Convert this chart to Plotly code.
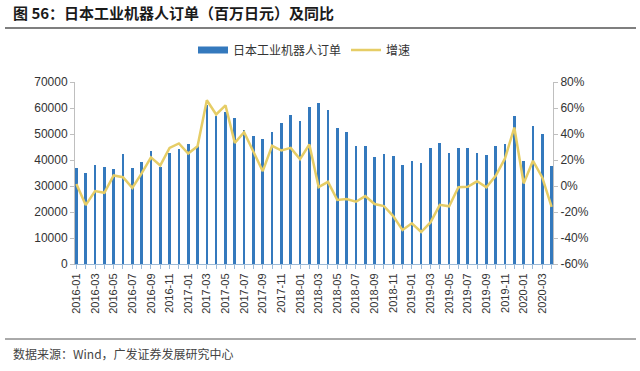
import plotly.graph_objects as go

months = [f"{y}-{m:02d}" for y in range(2016, 2021) for m in range(1, 13)][:52]

orders = [37.0, 35.1, 38.0, 37.4, 36.5, 42.5, 37.0, 39.2, 43.4, 37.4,
          42.7, 44.3, 46.1, 45.2, 61.1, 57.0, 58.5, 56.3, 51.7, 49.2,
          47.9, 50.6, 54.4, 57.5, 54.9, 60.3, 62.1, 59.3, 52.2, 50.7,
          45.2, 45.4, 41.0, 42.5, 41.7, 37.9, 39.6, 38.7, 44.5, 46.7,
          42.7, 44.8, 44.8, 42.7, 41.9, 45.2, 46.3, 57.0, 39.6, 53.0,
          49.9, 37.6]
orders = [v * 1000 for v in orders]

growth = [1.5, -14.7, -3.9, -5.2, 8.1, 6.8, -1.4, 9.7, 22.0, 15.8,
          29.3, 32.7, 25.0, 30.6, 66.0, 55.0, 62.0, 33.2, 41.4, 26.0,
          11.4, 30.9, 27.3, 29.3, 20.7, 31.9, -0.8, 3.2, -10.8, -10.1,
          -12.1, -7.8, -13.9, -15.4, -23.1, -33.9, -28.7, -35.4, -28.0, -14.5,
          -15.6, -1.0, -0.6, 3.6, -1.0, 7.9, 21.2, 45.0, 2.0, 19.4,
          6.6, -16.0]
growth = [v / 100 for v in growth]

left_ticks = [0, 10000, 20000, 30000, 40000, 50000, 60000, 70000]
right_ticks = [-0.6, -0.4, -0.2, 0, 0.2, 0.4, 0.6, 0.8]

title_text = "图 56：日本工业机器人订单（百万日元）及同比"
source_text = "数据来源：Wind，广发证券发展研究中心"
bar_name = "日本工业机器人订单"
line_name = "增速"

BAR_COLOR = "#3479bd"
LINE_COLOR = "#e6cd66"
FONT = "Liberation Sans, Arial, sans-serif"
CJK = "Noto Sans CJK SC"

x = list(range(len(months)))

fig = go.Figure()
fig.add_trace(go.Bar(x=x, y=orders, name=bar_name, marker_color=BAR_COLOR,
                     marker_line_width=0, width=0.28, showlegend=False))
fig.add_trace(go.Scatter(x=[None], y=[None], mode="lines", name=bar_name,
                         line=dict(color=BAR_COLOR, width=7)))
fig.add_trace(go.Scatter(x=x, y=growth, name=line_name, mode="lines",
                         line=dict(color=LINE_COLOR, width=2.5), yaxis="y2"))

L, R, T, B = 75, 553, 82, 264
W, H = 640, 371
pw, ph = R - L, B - T

def px_x(v):
    return (v - L) / pw

def px_y(v):
    return (B - v) / ph

fig.update_layout(
    width=W, height=H,
    margin=dict(l=L, r=W - R, t=T, b=H - B, pad=0),
    plot_bgcolor="white", paper_bgcolor="white",
    bargap=0,
    font=dict(family=FONT, size=12, color="#333333"),
    xaxis=dict(
        range=[-0.15, len(months) - 0.85],
        tickvals=x[::2], ticktext=months[::2], tickangle=-90,
        tickfont=dict(size=11, color="#333333"),
        showgrid=False, zeroline=False,
        showline=True, linecolor="#9dbbd8", linewidth=1,
        ticks="outside", ticklen=4, tickcolor="#9dbbd8",
        minor=dict(tickvals=x, ticks="outside", ticklen=4, tickcolor="#9dbbd8"),
    ),
    yaxis=dict(
        range=[0, 70000], tickvals=left_ticks,
        ticktext=[str(v) for v in left_ticks],
        tickfont=dict(size=12, color="#333333"),
        showgrid=False, zeroline=False,
        showline=True, linecolor="#bfbfbf", linewidth=1,
        ticks="outside", ticklen=4, tickcolor="#bfbfbf",
    ),
    yaxis2=dict(
        range=[-0.6, 0.8], tickvals=right_ticks,
        ticktext=[f"{round(v*100)}%" for v in right_ticks],
        tickfont=dict(size=12, color="#333333"),
        overlaying="y", side="right",
        showgrid=False, zeroline=False,
        showline=True, linecolor="#bfbfbf", linewidth=1,
        ticks="outside", ticklen=4, tickcolor="#bfbfbf",
    ),
    legend=dict(
        orientation="h", x=px_x(193), y=px_y(50), xanchor="left", yanchor="middle",
        font=dict(family=CJK, size=12, color="#333333"),
        bgcolor="rgba(0,0,0,0)", itemwidth=30, tracegroupgap=0,
    ),
    shapes=[
        dict(type="line", xref="paper", yref="paper",
             x0=px_x(5), x1=px_x(636), y0=px_y(28), y1=px_y(28),
             line=dict(color="#555555", width=1.5)),
        dict(type="line", xref="paper", yref="paper",
             x0=px_x(5), x1=px_x(636), y0=px_y(339), y1=px_y(339),
             line=dict(color="#555555", width=1)),
    ],
    annotations=[
        dict(text=f"<b>{title_text}</b>", xref="paper", yref="paper",
             x=px_x(11), y=px_y(12), xanchor="left", yanchor="middle",
             showarrow=False, font=dict(family=CJK, size=15, color="#1a1a1a")),
        dict(text=source_text, xref="paper", yref="paper",
             x=px_x(11), y=px_y(353), xanchor="left", yanchor="middle",
             showarrow=False, font=dict(family=CJK, size=12, color="#444444")),
    ],
)

fig.write_html("out.html", config={"displayModeBar": False},
               post_script="document.body.style.margin='0';")
